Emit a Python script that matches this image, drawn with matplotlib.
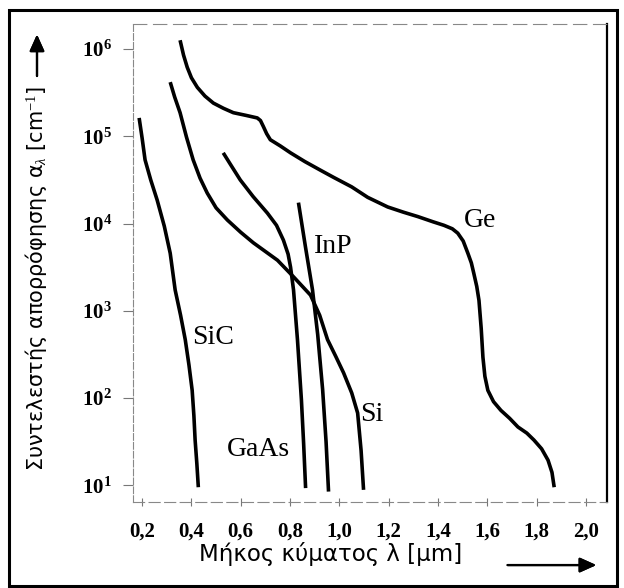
import numpy as np
import matplotlib.pyplot as plt
from matplotlib.patches import Rectangle
from matplotlib.ticker import FixedLocator, FuncFormatter

plt.rcParams['mathtext.fontset'] = 'custom'
plt.rcParams['mathtext.rm'] = 'Liberation Serif'
plt.rcParams['mathtext.it'] = 'Liberation Serif:italic'
plt.rcParams['mathtext.bf'] = 'Liberation Serif:bold'

# wavelength (um) and log10 of absorption coefficient (cm^-1)
sic_x = [0.188, 0.200, 0.212, 0.235, 0.261, 0.290, 0.314, 0.334, 0.356, 0.375, 0.390, 0.403, 0.410, 0.415, 0.422, 0.428]
sic_y = [5.21, 4.98, 4.73, 4.50, 4.27, 3.97, 3.66, 3.24, 2.95, 2.67, 2.38, 2.09, 1.80, 1.52, 1.25, 0.98]

gaas_x = [0.529, 0.560, 0.598, 0.650, 0.708, 0.745, 0.773, 0.792, 0.802, 0.814, 0.830, 0.846, 0.855, 0.863]
gaas_y = [4.81, 4.67, 4.50, 4.31, 4.12, 3.98, 3.81, 3.65, 3.50, 3.24, 2.67, 1.98, 1.48, 0.97]

si_x = [0.314, 0.332, 0.354, 0.380, 0.407, 0.435, 0.464, 0.500, 0.546, 0.600, 0.651, 0.700, 0.749, 0.814,
        0.883, 0.920, 0.952, 0.985, 1.017, 1.050, 1.074, 1.088, 1.098]
si_y = [5.62, 5.45, 5.27, 4.99, 4.73, 4.52, 4.35, 4.18, 4.04, 3.90, 3.78, 3.68, 3.58, 3.39,
        3.18, 2.95, 2.67, 2.48, 2.29, 2.06, 1.83, 1.40, 0.95]

inp_x = [0.834, 0.862, 0.891, 0.912, 0.932, 0.946, 0.956]
inp_y = [4.24, 3.74, 3.24, 2.73, 2.10, 1.50, 0.93]

ge_x = [0.354, 0.368, 0.383, 0.400, 0.424, 0.455, 0.489, 0.530, 0.570, 0.620, 0.667, 0.680, 0.692, 0.705,
        0.720, 0.760, 0.802, 0.860, 0.924, 0.976, 1.050, 1.115, 1.196, 1.260, 1.318, 1.380, 1.424, 1.458,
        1.480, 1.502, 1.521, 1.535, 1.545, 1.557, 1.566, 1.575, 1.582, 1.590, 1.602, 1.625, 1.655, 1.690,
        1.724, 1.760, 1.789, 1.820, 1.846, 1.862, 1.871]
ge_y = [6.10, 5.93, 5.79, 5.67, 5.56, 5.46, 5.38, 5.32, 5.27, 5.24, 5.21, 5.18, 5.11, 5.03,
        4.96, 4.89, 4.81, 4.71, 4.61, 4.53, 4.42, 4.30, 4.19, 4.13, 4.08, 4.02, 3.98, 3.94,
        3.89, 3.80, 3.66, 3.55, 3.43, 3.28, 3.12, 2.80, 2.47, 2.25, 2.09, 1.96, 1.86, 1.77,
        1.67, 1.60, 1.52, 1.42, 1.29, 1.15, 0.98]

labels = ['Ge', 'InP', 'SiC', 'GaAs', 'Si']
label_x = [1.570, 0.976, 0.489, 0.672, 1.131]
label_y = [4.03, 3.74, 2.70, 1.41, 1.81]

x_ticks = [0.2, 0.4, 0.6, 0.8, 1.0, 1.2, 1.4, 1.6, 1.8, 2.0]
x_tick_labels = ['0,2', '0,4', '0,6', '0,8', '1,0', '1,2', '1,4', '1,6', '1,8', '2,0']
y_ticks = [1, 2, 3, 4, 5, 6]

fig = plt.figure(figsize=(6.24, 5.88), dpi=100)
ax = fig.add_axes([0.2131, 0.1463, 0.7596, 0.8129])

for xs, ys in [(sic_x, sic_y), (gaas_x, gaas_y), (si_x, si_y), (inp_x, inp_y), (ge_x, ge_y)]:
    ax.plot(xs, 10.0 ** np.array(ys), color='black', lw=2.6, solid_capstyle='butt')

for name, lx, ly in zip(labels, label_x, label_y):
    ax.text(lx, 10 ** ly, name, family='Liberation Serif', fontsize=20,
            ha='center', va='center')

ax.set_yscale('log')
ax.set_xlim(0.163, 2.085)
ax.set_ylim(10 ** 0.811, 10 ** 6.286)

ax.xaxis.set_major_locator(FixedLocator(x_ticks))
ax.set_xticklabels(x_tick_labels)
ax.yaxis.set_major_locator(FixedLocator([10.0 ** k for k in y_ticks]))
ax.yaxis.set_major_formatter(FuncFormatter(lambda v, p: r'$\mathbf{10^{%d}}$' % round(np.log10(v))))
ax.yaxis.set_minor_locator(FixedLocator([]))

for lab in ax.get_xticklabels() + ax.get_yticklabels():
    lab.set_family('Liberation Serif')
    lab.set_fontsize(15)
    lab.set_fontweight('bold')

ax.tick_params(axis='y', direction='out', length=7, width=0.8, color='#777777', pad=8)
ax.tick_params(axis='x', direction='inout', length=6, width=0.8, color='#777777', pad=11)

for side in ['left', 'top', 'bottom']:
    ax.spines[side].set_color('#888888')
    ax.spines[side].set_linewidth(0.8)
ax.spines['left'].set_linestyle((0, (6, 2)))
ax.spines['bottom'].set_linestyle((0, (10, 4)))
ax.spines['top'].set_linestyle((0, (12, 6)))
ax.spines['right'].set_color('black')
ax.spines['right'].set_linewidth(1.6)

# axis titles with arrows
fig.text(0.057, 0.526, 'Συντελεστής απορρόφησης α$_{λ}$ [cm$^{-1}$]', family='DejaVu Sans',
         fontsize=15, rotation=90, ha='center', va='center')
fig.text(0.530, 0.057, 'Μήκος κύματος λ [μm]', family='DejaVu Sans',
         fontsize=16.5, ha='center', va='center')

arrow = dict(arrowstyle='-|>,head_length=1.0,head_width=0.45', color='black', lw=1.6)
fig.add_artist(plt.annotate('', xy=(0.0593, 0.946), xytext=(0.0593, 0.866),
                            xycoords='figure fraction', textcoords='figure fraction', arrowprops=arrow))
fig.add_artist(plt.annotate('', xy=(0.960, 0.039), xytext=(0.809, 0.039),
                            xycoords='figure fraction', textcoords='figure fraction', arrowprops=arrow))

# outer frame
fig.add_artist(Rectangle((9 / 624, 1 - 586 / 588), 608 / 624, 576 / 588, transform=fig.transFigure,
                         fill=False, edgecolor='black', lw=2.2))

fig.savefig('out.png', dpi=100)
